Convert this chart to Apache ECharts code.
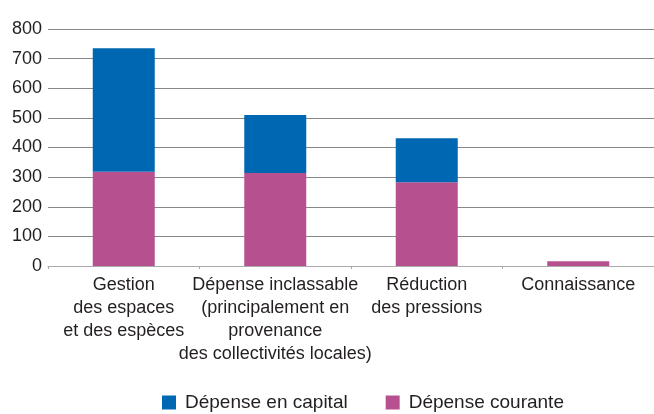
<!DOCTYPE html>
<html>
<head>
<meta charset="utf-8">
<script src="https://cdn.jsdelivr.net/npm/echarts@6/dist/echarts.min.js"></script>
<style>
  html, body { margin: 0; padding: 0; background: #fff; }
  #chart { width: 654px; height: 414px; }
</style>
</head>
<body>
<div id="chart"></div>
<script>
// categories on the x axis
const categories = [
  "Gestion\ndes espaces\net des espèces",
  "Dépense inclassable\n(principalement en\nprovenance\ndes collectivités locales)",
  "Réduction\ndes pressions",
  "Connaissance"
];
const capital = [417, 196, 148, 0];
const courante = [318, 314, 283, 16];
const yTicks = [0, 100, 200, 300, 400, 500, 600, 700, 800];

const font = "Liberation Sans";
const textColor = "#231f20";

let myChart = echarts.init(document.getElementById("chart"));
myChart.setOption({
  animation: false,
  grid: {
    left: 48,
    top: 29,
    width: 608,
    height: 237
  },
  legend: {
    data: ["Dépense en capital", "Dépense courante"],
    left: 162,
    top: 393,
    itemWidth: 14,
    itemHeight: 14,
    itemGap: 38,
    icon: "rect",
    padding: 0,
    textStyle: {
      fontFamily: font,
      fontSize: 19,
      color: textColor,
      padding: [0, 0, 0, 4]
    }
  },
  xAxis: {
    type: "category",
    data: categories,
    axisLine: { lineStyle: { color: "#aaaaaa", width: 1 } },
    axisTick: { show: true, length: 3, lineStyle: { color: "#aaaaaa" } },
    axisLabel: {
      interval: 0,
      margin: 8,
      fontFamily: font,
      fontSize: 18,
      lineHeight: 23,
      color: textColor
    }
  },
  yAxis: {
    type: "value",
    min: yTicks[0],
    max: yTicks[yTicks.length - 1],
    interval: 100,
    axisLine: { show: false },
    axisTick: { show: false },
    splitLine: { lineStyle: { color: "#888888", width: 1 } },
    axisLabel: {
      margin: 6,
      fontFamily: font,
      fontSize: 18,
      color: textColor
    }
  },
  series: [
    {
      name: "Dépense courante",
      type: "bar",
      stack: "total",
      barWidth: 62,
      data: courante,
      itemStyle: { color: "#b7508f" }
    },
    {
      name: "Dépense en capital",
      type: "bar",
      stack: "total",
      barWidth: 62,
      data: capital,
      itemStyle: { color: "#0068b3" }
    }
  ]
});
</script>
</body>
</html>
